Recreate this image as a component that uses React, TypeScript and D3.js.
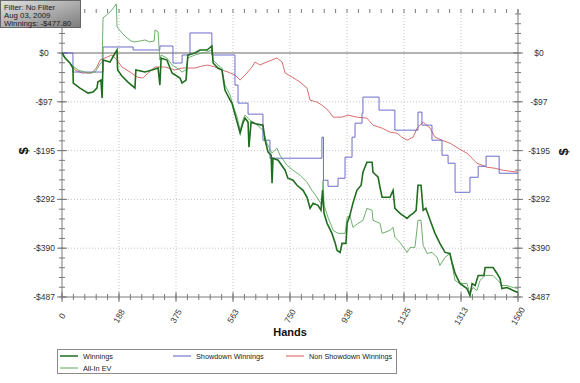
import React from "react";
import * as d3 from "d3";

const W = 580;
const H = 383;

const X_TICKS = [0, 187.5, 375, 562.5, 750, 937.5, 1125, 1312.5, 1500];
const X_TICK_LABELS = ["0", "188", "375", "563", "750", "938", "1125", "1313", "1500"];
const Y_TICKS = [0, -97.4, -194.8, -292.2, -389.6, -487];
const Y_TICK_LABELS = ["$0", "-$97", "-$195", "-$292", "-$390", "-$487"];
const TOOLTIP_LINES = ["Filter: No Filter", "Aug 03, 2009", "Winnings: -$477.80"];

// [hand, dollars]
const winnings: [number, number][] = [
  [0, 0], [10, -10], [26, -20], [36, -30], [37, -60], [59, -70], [86, -80], [102, -78], [115, -70],
  [118, -58], [128, -54], [132, -90], [135, -14], [158, -18], [171, -4], [181, 6], [183, -34],
  [197, -46], [217, -58], [240, -70], [243, -34], [273, -38], [296, -34], [316, -30], [322, -64],
  [326, -10], [345, -14], [362, -40], [388, -50], [395, -60], [408, -54], [414, -4], [437, 0],
  [454, 6], [477, 6], [493, 14], [497, -20], [513, -30], [526, -34], [536, -74], [553, -94],
  [559, -100], [576, -138], [586, -160], [595, -140], [602, -130], [612, -138], [615, -188],
  [622, -138], [641, -142], [661, -144], [668, -174], [678, -198], [688, -204], [691, -260],
  [694, -210], [711, -214], [734, -234], [743, -250], [760, -254], [773, -264], [793, -274],
  [806, -288], [816, -310], [826, -300], [842, -304], [852, -314], [857, -274], [862, -320],
  [872, -340], [888, -360], [898, -378], [905, -394], [915, -398], [921, -380], [934, -380],
  [938, -340], [947, -324], [957, -300], [970, -274], [984, -264], [990, -238], [1003, -218],
  [1020, -218], [1023, -238], [1040, -248], [1046, -268], [1053, -288], [1079, -288], [1089, -274],
  [1095, -310], [1112, -320], [1135, -330], [1145, -324], [1155, -320], [1165, -314], [1171, -264],
  [1181, -264], [1188, -314], [1197, -310], [1211, -334], [1227, -360], [1243, -380], [1260, -398],
  [1276, -400], [1283, -418], [1293, -440], [1309, -460], [1332, -470], [1342, -484], [1349, -460],
  [1359, -464], [1369, -444], [1388, -444], [1392, -428], [1418, -428], [1431, -440], [1441, -450],
  [1447, -470], [1464, -468], [1484, -474], [1500, -478],
];

const allInEV: [number, number][] = [
  [0, 0], [10, -10], [26, -20], [36, -26], [53, -34], [86, -40], [109, -38], [125, -22], [132, -18],
  [135, 70], [151, 78], [164, 86], [174, 94], [179, 98], [181, 52], [197, 40], [214, 30], [227, 24],
  [240, 22], [257, 24], [273, 26], [289, 22], [303, 24], [306, 46], [316, 42], [322, -14], [326, -4],
  [345, -10], [362, -24], [388, -34], [395, -38], [408, -34], [414, -10], [437, -4], [461, 0],
  [477, 2], [493, 6], [497, -14], [513, -24], [526, -30], [536, -64], [553, -84], [559, -98],
  [576, -128], [586, -154], [595, -134], [602, -124], [618, -134], [635, -140], [661, -154],
  [674, -180], [691, -200], [707, -190], [717, -204], [740, -224], [760, -234], [783, -244],
  [806, -258], [822, -274], [839, -288], [855, -304], [859, -254], [862, -304], [875, -328],
  [892, -354], [908, -360], [931, -360], [938, -328], [947, -324], [957, -348], [974, -340],
  [990, -334], [1003, -310], [1020, -314], [1023, -334], [1046, -340], [1053, -360], [1079, -354],
  [1089, -348], [1095, -368], [1112, -378], [1135, -398], [1145, -388], [1161, -388], [1171, -334],
  [1181, -334], [1188, -384], [1201, -400], [1217, -398], [1234, -408], [1243, -424], [1260, -408],
  [1276, -400], [1293, -454], [1309, -460], [1332, -460], [1342, -480], [1352, -468], [1365, -474],
  [1375, -454], [1392, -444], [1418, -444], [1434, -454], [1447, -464], [1464, -464], [1484, -468],
  [1500, -470],
];

const showdown: [number, number][] = [
  [0, 0], [36, -38], [135, 12], [234, 6], [322, 14], [365, -20], [395, -4], [421, 40], [493, -4],
  [569, -64], [579, -100], [612, -122], [661, -174], [684, -210], [855, -168], [860, -254],
  [875, -266], [908, -250], [931, -208], [954, -168], [964, -140], [987, -120], [990, -88],
  [1043, -114], [1095, -154], [1171, -118], [1184, -144], [1217, -174], [1250, -204], [1270, -220],
  [1293, -278], [1342, -248], [1369, -226], [1395, -206], [1438, -240], [1500, -240],
];

const nonShowdown: [number, number][] = [
  [0, 0], [16, -14], [33, -24], [43, -34], [66, -40], [99, -40], [115, -28], [125, -14], [141, -10],
  [164, -4], [181, -14], [197, -28], [224, -38], [247, -48], [266, -50], [283, -40], [306, -28],
  [339, -28], [372, -34], [395, -30], [437, -30], [461, -26], [480, -24], [503, -28], [526, -34],
  [546, -38], [569, -44], [586, -54], [602, -44], [625, -28], [635, -18], [651, -24], [674, -18],
  [707, -10], [724, -18], [734, -40], [757, -48], [783, -58], [806, -70], [816, -94], [839, -98],
  [855, -104], [875, -114], [892, -128], [921, -128], [941, -124], [970, -128], [1003, -130],
  [1023, -144], [1053, -150], [1079, -158], [1102, -160], [1118, -168], [1135, -174], [1155, -168],
  [1168, -150], [1188, -138], [1211, -150], [1227, -168], [1250, -174], [1276, -180], [1303, -190],
  [1332, -200], [1365, -220], [1398, -228], [1424, -230], [1451, -234], [1500, -238],
];

const COLORS = {
  winnings: "#1f6e1f",
  allIn: "#5fa55f",
  showdown: "#5c5cc4",
  nonShowdown: "#d45c5c",
};

const FONT = "'Liberation Sans', Arial, sans-serif";

export default function App() {
  const left = 62, right = 518, top = 9, bottom = 297;
  const x = d3.scaleLinear().domain([0, 1500]).range([left, right]);
  const y = d3.scaleLinear().domain([-487, 0]).range([bottom, 53]);
  const topVal = y.invert(top);

  const xMinor = d3.range(0, 1500.001, 37.5);
  const yMinor: number[] = [];
  for (let k = -25; k * 19.48 <= topVal; k++) yMinor.push(k * 19.48);

  const line = d3.line<[number, number]>().x((d) => x(d[0])).y((d) => y(d[1]));
  const stepLine = d3
    .line<[number, number]>()
    .x((d) => x(d[0]))
    .y((d) => y(d[1]))
    .curve(d3.curveStepAfter);

  const axisColor = "#7a7a7a";
  const legendItems = [
    { name: "Winnings", color: COLORS.winnings, w: 1.5, lx: 60, ly: 356 },
    { name: "Showdown Winnings", color: COLORS.showdown, w: 1, lx: 173, ly: 356 },
    { name: "Non Showdown Winnings", color: COLORS.nonShowdown, w: 1, lx: 286, ly: 356 },
    { name: "All-In EV", color: COLORS.allIn, w: 1, lx: 60, ly: 368 },
  ];

  return (
    <svg width={W} height={H} style={{ position: "absolute", left: 0, top: 0, background: "#fff" }} fontFamily={FONT}>
      <defs>
        <linearGradient id="tipGrad" x1="0" y1="0" x2="1" y2="1">
          <stop offset="0%" stopColor="#e2e2e2" />
          <stop offset="100%" stopColor="#7c7c7c" />
        </linearGradient>
      </defs>
      <rect x={0} y={0} width={W} height={H} fill="#fff" />

      {/* grid */}
      {X_TICKS.slice(1, -1).map((t) => (
        <line key={"gx" + t} x1={x(t)} x2={x(t)} y1={top} y2={bottom} stroke="#c4c4c4" strokeDasharray="1,2" />
      ))}
      {Y_TICKS.slice(1, -1).map((t) => (
        <line key={"gy" + t} x1={left} x2={right} y1={y(t)} y2={y(t)} stroke="#c4c4c4" strokeDasharray="1,2" />
      ))}
      <line x1={left} x2={right} y1={y(0)} y2={y(0)} stroke="#666" strokeWidth={1} />

      {/* axes */}
      <line x1={left} x2={left} y1={top} y2={bottom} stroke={axisColor} />
      <line x1={right} x2={right} y1={top} y2={bottom} stroke={axisColor} />
      <line x1={left} x2={right} y1={bottom} y2={bottom} stroke={axisColor} />
      {yMinor.map((v) => (
        <g key={"ym" + v}>
          <line x1={left - 3} x2={left + 3} y1={y(v)} y2={y(v)} stroke={axisColor} />
          <line x1={right - 3} x2={right + 3} y1={y(v)} y2={y(v)} stroke={axisColor} />
        </g>
      ))}
      {Y_TICKS.map((v) => (
        <g key={"yM" + v}>
          <line x1={left - 5} x2={left + 5} y1={y(v)} y2={y(v)} stroke={axisColor} />
          <line x1={right - 5} x2={right + 5} y1={y(v)} y2={y(v)} stroke={axisColor} />
        </g>
      ))}
      {xMinor.map((v) => (
        <g key={"xm" + v}>
          <line x1={x(v)} x2={x(v)} y1={bottom - 3} y2={bottom + 3} stroke={axisColor} />
          <line x1={x(v)} x2={x(v)} y1={top} y2={top + 4} stroke={axisColor} />
        </g>
      ))}
      {X_TICKS.map((v) => (
        <line key={"xM" + v} x1={x(v)} x2={x(v)} y1={bottom - 5} y2={bottom + 5} stroke={axisColor} />
      ))}

      {/* tick labels */}
      {Y_TICKS.map((v, i) => (
        <g key={"yl" + v} fontSize={8.5} fill="#333">
          <text x={44} y={y(v)} textAnchor="middle" dominantBaseline="central">{Y_TICK_LABELS[i]}</text>
          <text x={539} y={y(v)} textAnchor="middle" dominantBaseline="central">{Y_TICK_LABELS[i]}</text>
        </g>
      ))}
      {X_TICKS.map((v, i) => (
        <text
          key={"xl" + v}
          transform={`translate(${x(v)},316) rotate(-60)`}
          textAnchor="middle"
          dominantBaseline="central"
          fontSize={8.5}
          fill="#333"
        >
          {X_TICK_LABELS[i]}
        </text>
      ))}

      {/* axis titles */}
      <text transform="translate(23,151) rotate(-90)" textAnchor="middle" dominantBaseline="central" fontSize={13} fontWeight="bold" fill="#111">$</text>
      <text transform="translate(563,152) rotate(-90)" textAnchor="middle" dominantBaseline="central" fontSize={13} fontWeight="bold" fill="#111">$</text>
      <text x={290} y={332} textAnchor="middle" dominantBaseline="central" fontSize={11} fontWeight="bold" fill="#111">Hands</text>

      {/* series */}
      <path d={line(nonShowdown) ?? ""} fill="none" stroke={COLORS.nonShowdown} strokeWidth={0.9} />
      <path d={stepLine(showdown) ?? ""} fill="none" stroke={COLORS.showdown} strokeWidth={0.9} />
      <path d={line(allInEV) ?? ""} fill="none" stroke={COLORS.allIn} strokeWidth={0.9} />
      <path d={line(winnings) ?? ""} fill="none" stroke={COLORS.winnings} strokeWidth={1.6} />

      {/* legend */}
      <rect x={57.5} y={349.5} width={339} height={24} fill="#fff" stroke="#8a8a8a" />
      {legendItems.map((it) => (
        <g key={it.name}>
          <line x1={it.lx} x2={it.lx + 18} y1={it.ly} y2={it.ly} stroke={it.color} strokeWidth={it.w} />
          <text x={it.lx + 23} y={it.ly} dominantBaseline="central" fontSize={7.3} fill="#222">{it.name}</text>
        </g>
      ))}

      {/* tooltip */}
      <rect x={0.5} y={0.5} width={80} height={27} fill="url(#tipGrad)" stroke="#666" />
      {TOOLTIP_LINES.map((t, i) => (
        <text key={t} x={4} y={7 + i * 8} dominantBaseline="central" fontSize={7.8} fill="#1a1a1a">{t}</text>
      ))}
    </svg>
  );
}
